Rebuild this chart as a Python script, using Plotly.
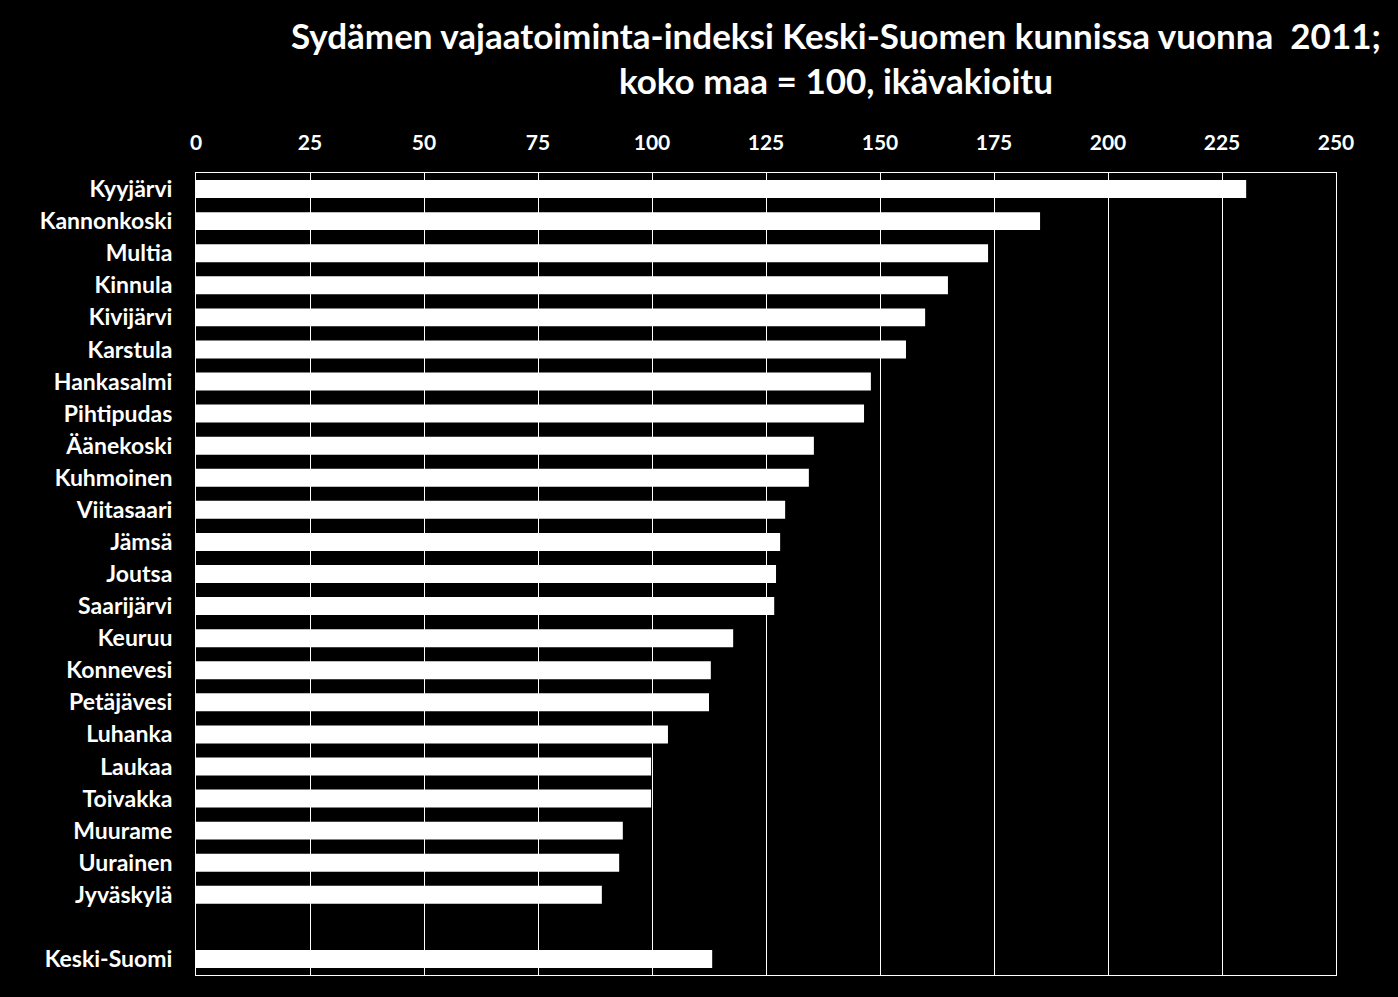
import plotly.graph_objects as go

municipalities = ["Kyyjärvi", "Kannonkoski", "Multia", "Kinnula", "Kivijärvi", "Karstula",
                  "Hankasalmi", "Pihtipudas", "Äänekoski", "Kuhmoinen", "Viitasaari", "Jämsä",
                  "Joutsa", "Saarijärvi", "Keuruu", "Konnevesi", "Petäjävesi", "Luhanka",
                  "Laukaa", "Toivakka", "Muurame", "Uurainen", "Jyväskylä", " ", "Keski-Suomi"]
index_values = [230.3, 185.1, 173.7, 164.9, 159.9, 155.7,
                148.0, 146.5, 135.5, 134.4, 129.2, 128.1,
                127.2, 126.8, 117.8, 112.9, 112.5, 103.5,
                99.8, 99.8, 93.6, 92.8, 89.0, None, 113.2]
tick_vals = [0, 25, 50, 75, 100, 125, 150, 175, 200, 225, 250]

FONT = "Lato"

fig = go.Figure(go.Bar(
    y=municipalities, x=index_values, orientation="h",
    marker=dict(color="white", line=dict(width=0)),
    hoverinfo="x+y",
))

fig.update_layout(
    width=1398, height=997,
    paper_bgcolor="black", plot_bgcolor="black",
    margin=dict(l=196, r=62, t=173, b=22),
    bargap=0.44,
    showlegend=False,
    font=dict(family=FONT, color="white", size=20),
    title=dict(
        text="<b>Sydämen vajaatoiminta-indeksi Keski-Suomen kunnissa vuonna  2011;<br>koko maa = 100, ikävakioitu</b>",
        x=0.598, xanchor="center", y=0.951, yanchor="top",
        font=dict(family=FONT, size=35, color="white"),
    ),
    xaxis=dict(
        side="top", range=[0, 250], tickvals=tick_vals,
        ticktext=[f"<b>{v}</b>" for v in tick_vals],
        showgrid=True, gridcolor="white", gridwidth=1,
        zeroline=False, showline=True, linecolor="white", linewidth=1, mirror=True,
        ticks="", ticklabelstandoff=14,
        tickfont=dict(family=FONT, size=21, color="white"),
    ),
    yaxis=dict(
        categoryorder="array", categoryarray=municipalities,
        autorange="reversed",
        tickvals=municipalities,
        ticktext=[f"<b>{m}</b>" for m in municipalities],
        showgrid=False, zeroline=False,
        showline=True, linecolor="white", linewidth=1, mirror=True,
        ticks="", ticklabelstandoff=18,
        tickfont=dict(family=FONT, size=23, color="white"),
    ),
)

fig.write_html("out.html")
